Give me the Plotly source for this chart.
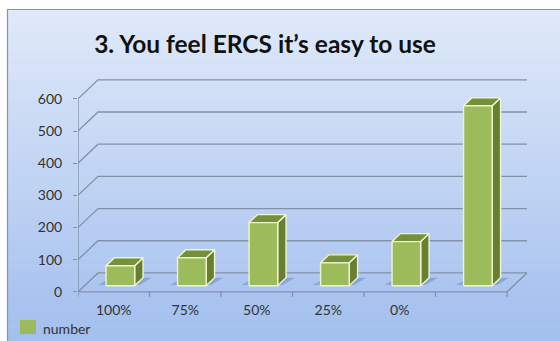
import plotly.graph_objects as go

# ---- data ----
categories = ["100%", "75%", "50%", "25%", "0%", ""]
counts = [62, 87, 196, 71, 137, 559]
y_ticks = [0, 100, 200, 300, 400, 500, 600]
series_name = "number"
title_text = "3. You feel ERCS it\u2019s easy to use"

# ---- oblique 3-D projection (depth z in 0..1) ----
DEPTH_X = 0.28      # horizontal shift of the back wall, in category units
DEPTH_Y = 59        # vertical shift of the back wall, in value units
BAR_W = 0.40
Z_FRONT, Z_BACK = 0.33, 0.75
N = len(categories)

# plot-area geometry (pixels)
W, H = 560, 341
M_L, M_R, M_T, M_B = 78, 15, 65, 41
PW, PH = W - M_L - M_R, H - M_T - M_B


def proj(x, y, z):
    return x + z * DEPTH_X, y + z * DEPTH_Y


def poly(points):
    xs, ys = [], []
    for p in points + [points[0]]:
        px, py = proj(*p)
        xs.append(px)
        ys.append(py)
    return xs, ys


def paper_x(px):
    return (px - M_L) / PW


def paper_y(py):
    return (H - M_B - py) / PH


fig = go.Figure()

FONT = "Lato"
GRID = "#8391a8"
LABEL = dict(family=FONT, size=14, color="#333333")

# gridlines: left side wall diagonals + back wall lines
gx, gy = [], []


def add_path(points):
    for p in points:
        a, b = proj(*p)
        gx.append(a)
        gy.append(b)
    gx.append(None)
    gy.append(None)


for v in y_ticks:
    add_path([(0, v, 0), (0, v, 1), (N, v, 1)])
# floor front edge and right edge
add_path([(0, 0, 0), (N, 0, 0), (N, 0, 1)])
# front value axis
add_path([(0, -15, 0), (0, y_ticks[-1], 0)])
# category boundary ticks
for i in range(1, N + 1):
    add_path([(i, 0, 0), (i, -15, 0)])

fig.add_trace(go.Scatter(x=gx, y=gy, mode="lines",
                         line=dict(color=GRID, width=1.3),
                         hoverinfo="skip", showlegend=False))

# soft floor shadows behind each column
for i, v in enumerate(counts):
    x0 = i + 0.5 - BAR_W / 2
    x1 = x0 + BAR_W
    sx, sy = poly([(x0 - 0.12, 0, Z_FRONT + 0.04), (x1 + 0.06, 0, Z_FRONT + 0.04),
                   (x1 + 0.12, 0, Z_BACK), (x0 - 0.04, 0, Z_BACK)])
    fig.add_trace(go.Scatter(x=sx, y=sy, mode="lines", fill="toself",
                             fillcolor="rgba(55,80,150,0.28)",
                             line=dict(width=0), hoverinfo="skip",
                             showlegend=False))

# columns: side, top, front faces
EDGE = "#eef4cf"
for i, v in enumerate(counts):
    x0 = i + 0.5 - BAR_W / 2
    x1 = x0 + BAR_W
    side = poly([(x1, 0, Z_FRONT), (x1, v, Z_FRONT), (x1, v, Z_BACK), (x1, 0, Z_BACK)])
    top = poly([(x0, v, Z_FRONT), (x1, v, Z_FRONT), (x1, v, Z_BACK), (x0, v, Z_BACK)])
    front = poly([(x0, 0, Z_FRONT), (x1, 0, Z_FRONT), (x1, v, Z_FRONT), (x0, v, Z_FRONT)])
    for (fx, fy), col in [(side, "#677f30"), (top, "#74903b"), (front, "#9cbb5a")]:
        fig.add_trace(go.Scatter(x=fx, y=fy, mode="lines", fill="toself",
                                 fillcolor=col, line=dict(color=EDGE, width=1.4),
                                 name=series_name, hovertext=f"{categories[i]}: {v}",
                                 hoverinfo="text", showlegend=False))

# background gradient + chart frame
shapes = []
c_top, c_bot = (223, 233, 249), (163, 191, 238)
y_start, y_end, bands = 10, H, 48
for k in range(bands):
    t = k / (bands - 1)
    col = tuple(round(c_top[j] + (c_bot[j] - c_top[j]) * t) for j in range(3))
    ya = y_start + (y_end - y_start) * k / bands
    yb = y_start + (y_end - y_start) * (k + 1) / bands + 0.6
    shapes.append(dict(type="rect", xref="paper", yref="paper", layer="below",
                       x0=paper_x(8), x1=paper_x(W + 10),
                       y0=paper_y(ya), y1=paper_y(yb),
                       fillcolor="rgb(%d,%d,%d)" % col, line=dict(width=0)))
shapes.append(dict(type="rect", xref="paper", yref="paper", layer="below",
                   x0=paper_x(7.5), x1=paper_x(W + 20),
                   y0=paper_y(9.5), y1=paper_y(H + 20),
                   fillcolor="rgba(0,0,0,0)", line=dict(color="#8294ad", width=1.2)))
# legend swatch
shapes.append(dict(type="rect", xref="paper", yref="paper", layer="above",
                   x0=paper_x(20), x1=paper_x(36), y0=paper_y(334), y1=paper_y(320),
                   fillcolor="#9cbb5a", line=dict(width=0)))

fig.update_layout(
    width=W, height=H,
    margin=dict(l=M_L, r=M_R, t=M_T, b=M_B),
    paper_bgcolor="white",
    plot_bgcolor="rgba(0,0,0,0)",
    shapes=shapes,
    title=dict(text=f"<b>{title_text}</b>", x=265 / W, xanchor="center",
               y=1 - 44 / H, yanchor="middle", yref="container",
               font=dict(family=FONT, size=24.5, color="#111111")),
    xaxis=dict(range=[0, PW / 71.5], showgrid=False, zeroline=False, showline=False,
               tickvals=[i + 0.5 for i in range(N)], ticktext=categories, ticks="",
               tickfont=LABEL, fixedrange=True),
    yaxis=dict(range=[-25, -25 + PH / 0.3219], showgrid=False, zeroline=False,
               showline=False, tickvals=y_ticks, ticks="outside", ticklen=4,
               tickcolor=GRID, ticklabelstandoff=8, tickfont=LABEL,
               fixedrange=True),
    annotations=[dict(text=series_name, xref="paper", yref="paper",
                      x=paper_x(41), y=paper_y(328), xanchor="left", yanchor="middle",
                      showarrow=False, font=LABEL)],
)

fig.write_html("out.html")
